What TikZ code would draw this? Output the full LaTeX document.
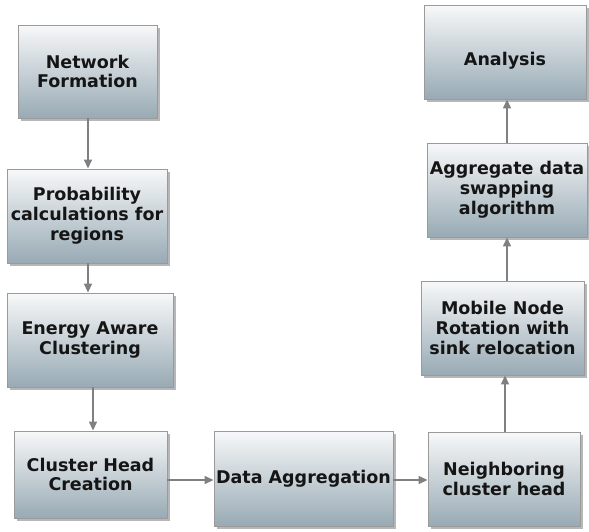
\documentclass[tikz,border=0pt]{standalone}
\usepackage{fontspec}
\setmainfont{DejaVu Sans}
\usetikzlibrary{shadows,arrows.meta}
\definecolor{boxtop}{HTML}{F7F8F9}
\definecolor{boxbot}{HTML}{98AAB4}
\definecolor{boxline}{HTML}{9A9A9A}
\definecolor{arrowc}{HTML}{808080}
\definecolor{txt}{HTML}{151515}
\tikzset{
  stepbox/.style={rectangle, draw=boxline, line width=0.9pt,
    top color=boxtop, bottom color=boxbot, inner sep=1pt, text=txt,
    align=center, font=\fontsize{17.5}{19.8}\selectfont\bfseries,
    drop shadow={shadow xshift=3pt, shadow yshift=-3pt, opacity=0.4, fill=black!70}},
  flow/.style={draw=arrowc, line width=1.4pt, -{Triangle[length=9pt,width=8pt]}}
}
\begin{document}
\begin{tikzpicture}[x=1pt,y=-1pt]
\useasboundingbox (0,0) rectangle (589,531);
\node[stepbox, minimum width=139pt, minimum height=93pt] (nf) at (87.5,71.5) {Network\\Formation};
\node[stepbox, minimum width=160pt, minimum height=94pt] (prob) at (87,216) {Probability\\calculations for\\regions};
\node[stepbox, minimum width=166pt, minimum height=94pt] (eac) at (90,340) {Energy Aware\\Clustering};
\node[stepbox, minimum width=153pt, minimum height=87pt] (chc) at (90.5,474.5) {Cluster Head\\Creation};
\node[stepbox, minimum width=179pt, minimum height=95pt] (da) at (303.5,478.5) {Data Aggregation};
\node[stepbox, minimum width=152pt, minimum height=94pt] (nch) at (504,479) {Neighboring\\cluster head};
\node[stepbox, minimum width=163pt, minimum height=94pt] (mnr) at (502.5,328) {Mobile Node\\Rotation with\\sink relocation};
\node[stepbox, minimum width=160pt, minimum height=94pt] (ads) at (507,190) {Aggregate data\\swapping\\algorithm};
\node[stepbox, minimum width=162pt, minimum height=94pt, text height=30pt, text depth=4pt] (an) at (505,52) {Analysis};
\coordinate (c1) at (88,0);
\coordinate (c2) at (93,0);
\coordinate (c3) at (505,0);
\coordinate (c4) at (507,0);
\coordinate (r1) at (0,480);
\draw[flow] (nf.south -| c1) -- (prob.north -| c1);
\draw[flow] (prob.south -| c1) -- (eac.north -| c1);
\draw[flow] (eac.south -| c2) -- (chc.north -| c2);
\draw[flow] (chc.east |- r1) -- (da.west |- r1);
\draw[flow] (da.east |- r1) -- (nch.west |- r1);
\draw[flow] (nch.north -| c3) -- (mnr.south -| c3);
\draw[flow] (mnr.north -| c4) -- (ads.south -| c4);
\draw[flow] (ads.north -| c4) -- (an.south -| c4);
\end{tikzpicture}
\end{document}
